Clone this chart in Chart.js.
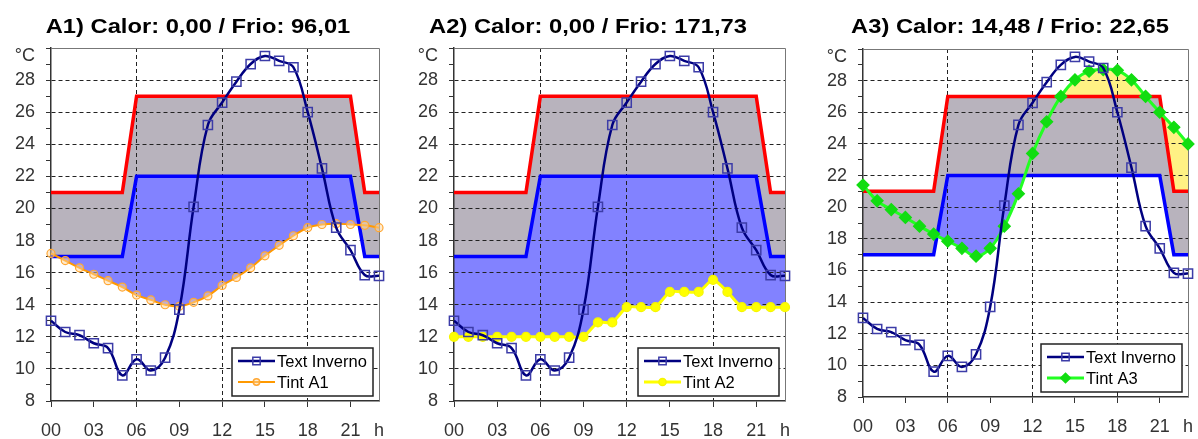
<!DOCTYPE html>
<html>
<head>
<meta charset="utf-8">
<script src="https://cdn.jsdelivr.net/npm/chart.js@4/dist/chart.umd.min.js"></script>
<style>
  body { margin: 0; background: #fff; }
  #wrap { position: relative; width: 1198px; height: 439px; overflow: hidden; }
  .panel { position: absolute; top: 0; }
  .title {
    position: absolute; top: 14px; width: 400px; text-align: center;
    font: bold 21px "Liberation Sans", Arial, sans-serif; line-height: 24px;
    color: #000; transform: scaleX(1.13); white-space: nowrap;
  }
</style>
</head>
<body>
<div id="wrap">
  <canvas id="chart-a1" class="panel" width="400" height="439" style="left:0px"></canvas>
  <canvas id="chart-a2" class="panel" width="400" height="439" style="left:400px"></canvas>
  <canvas id="chart-a3" class="panel" width="398" height="439" style="left:800px"></canvas>
  <div class="title" style="left:-2px">A1) Calor: 0,00 / Frio: 96,01</div>
  <div class="title" style="left:388px">A2) Calor: 0,00 / Frio: 171,73</div>
  <div class="title" style="left:810px">A3) Calor: 14,48 / Frio: 22,65</div>
</div>
<script>
// Data
var hours = [0, 1, 2, 3, 4, 5, 6, 7, 8, 9, 10, 11, 12, 13, 14, 15, 16, 17, 18, 19, 20, 21, 22, 23];
var hourTicks = [0, 3, 6, 9, 12, 15, 18, 21, 23];
var tempTicks = [8, 9, 10, 11, 12, 13, 14, 15, 16, 17, 18, 19, 20, 21, 22, 23, 24, 25, 26, 27, 28, 29, 30];

var textInverno = [13.0, 12.3, 12.1, 11.6, 11.3, 9.6, 10.6, 9.9, 10.7, 13.7, 20.1, 25.2,
                   26.6, 27.9, 29.0, 29.5, 29.2, 28.8, 26.0, 22.5, 18.8, 17.4, 15.85, 15.8];
var comfortMax = [21, 21, 21, 21, 21, 21, 27, 27, 27, 27, 27, 27,
                  27, 27, 27, 27, 27, 27, 27, 27, 27, 27, 21, 21];
var comfortMin = [17, 17, 17, 17, 17, 17, 22, 22, 22, 22, 22, 22,
                  22, 22, 22, 22, 22, 22, 22, 22, 22, 22, 17, 17];

var tintA1 = [17.2, 16.75, 16.3, 15.9, 15.5, 15.1, 14.6, 14.3, 14.0, 13.9, 14.15, 14.55,
              15.2, 15.7, 16.3, 17.05, 17.7, 18.3, 18.8, 19.0, 19.05, 19.0, 18.95, 18.8];
var tintA2 = [12.0, 12.0, 12.0, 12.0, 12.0, 12.0, 12.0, 12.0, 12.0, 12.0, 12.9, 12.9,
              13.85, 13.85, 13.85, 14.8, 14.8, 14.8, 15.55, 14.8, 13.85, 13.85, 13.85, 13.85];
var tintA3 = [21.4, 20.4, 19.85, 19.35, 18.8, 18.3, 17.85, 17.4, 16.9, 17.4, 18.8, 20.85,
              23.4, 25.4, 27.0, 28.05, 28.6, 28.7, 28.65, 28.05, 27.0, 26.0, 25.05, 24.0];

var tickFont = { family: '"Liberation Sans", Arial, sans-serif', size: 18 };
var yTickFont = { family: '"Liberation Sans", Arial, sans-serif', size: 18, lineHeight: 0.9 };
var gridDark = '#222';
var clear = 'rgba(0,0,0,0)';

function points(values) {
  return hours.map(function (h, i) { return { x: h, y: values[i] }; });
}

function drawMarker(ctx, style, x, y, r, fill, stroke) {
  ctx.beginPath();
  if (style === 'rect') {
    var s = r * Math.SQRT1_2;
    ctx.rect(x - s, y - s, 2 * s, 2 * s);
  } else if (style === 'rectRot') {
    ctx.moveTo(x, y - r); ctx.lineTo(x + r, y); ctx.lineTo(x, y + r); ctx.lineTo(x - r, y);
    ctx.closePath();
  } else {
    ctx.arc(x, y, r, 0, Math.PI * 2);
  }
  ctx.fillStyle = fill;
  ctx.fill();
  ctx.lineWidth = 1.5;
  ctx.strokeStyle = stroke;
  ctx.stroke();
}

// top + right frame of the plot; also makes sure curve control points exist
// before the fills (drawn before the grid) use them
var frame = {
  id: 'frame',
  afterUpdate: function (chart) {
    chart.getSortedVisibleDatasetMetas().forEach(function (m) {
      m.dataset.updateControlPoints(chart.chartArea, 'x');
    });
  },
  beforeDatasetsDraw: function (chart) {
    var a = chart.chartArea, ctx = chart.ctx;
    ctx.save();
    ctx.strokeStyle = '#777';
    ctx.lineWidth = 1;
    ctx.beginPath();
    ctx.moveTo(a.left, a.top + 0.5);
    ctx.lineTo(a.right + 0.5, a.top + 0.5);
    ctx.lineTo(a.right + 0.5, a.bottom);
    ctx.stroke();
    ctx.restore();
  }
};

// boxed legend, bottom right inside the plot
var boxLegend = {
  id: 'boxLegend',
  afterDatasetsDraw: function (chart) {
    var ctx = chart.ctx, a = chart.chartArea;
    var w = 141, h = 48;
    var x = a.right - 6 - w, y = a.bottom - 5 - h;
    ctx.save();
    ctx.fillStyle = '#fff';
    ctx.fillRect(x, y, w, h);
    ctx.strokeStyle = '#222';
    ctx.lineWidth = 1.5;
    ctx.strokeRect(x, y, w, h);
    ctx.font = '16.5px "Liberation Sans", Arial, sans-serif';
    ctx.textBaseline = 'middle';
    [0, 1].forEach(function (i) {
      var ds = chart.data.datasets[i];
      var ly = y + 13 + i * 21;
      ctx.strokeStyle = ds.borderColor;
      ctx.lineWidth = ds.borderWidth;
      ctx.beginPath();
      ctx.moveTo(x + 6, ly);
      ctx.lineTo(x + 43, ly);
      ctx.stroke();
      drawMarker(ctx, ds.pointStyle, x + 24.5, ly, ds.pointRadius * 0.8, ds.pointBackgroundColor, ds.pointBorderColor);
      ctx.fillStyle = '#000';
      ctx.fillText(ds.label, x + 45, ly + 1);
    });
    ctx.restore();
  }
};

function makePanel(id, tintLabel, tintValues, tintStyle, box) {
  var tint = {
    label: tintLabel,
    data: points(tintValues),
    borderColor: tintStyle.color,
    borderWidth: tintStyle.width,
    tension: tintStyle.tension,
    pointStyle: tintStyle.point,
    pointRadius: tintStyle.radius,
    pointBackgroundColor: tintStyle.pointFill,
    pointBorderColor: tintStyle.pointBorder,
    pointBorderWidth: 1.2,
    clip: false,
    fill: { target: 3, above: clear, below: '#8282ff' }
  };

  return new Chart(document.getElementById(id), {
    type: 'line',
    data: {
      datasets: [{
        label: 'Text Inverno',
        data: points(textInverno),
        borderColor: '#000080',
        borderWidth: 2.5,
        tension: 0.4,
        pointStyle: 'rect',
        pointRadius: 6.5,
        pointBackgroundColor: clear,
        pointBorderColor: '#3c3ca8',
        pointBorderWidth: 1.5,
        clip: false,
        fill: false
      },
      tint,
      {
        label: 'Max',
        data: points(comfortMax),
        borderColor: '#ff0000',
        borderWidth: 3.5,
        tension: 0,
        pointRadius: 0,
        fill: { target: 1, above: clear, below: '#fff184' }
      }, {
        label: 'Min',
        data: points(comfortMin),
        borderColor: '#0000ff',
        borderWidth: 3.5,
        tension: 0,
        pointRadius: 0,
        fill: { target: 2, above: clear, below: '#b8b3bd' }
      }]
    },
    options: {
      responsive: false,
      animation: false,
      events: [],
      layout: { padding: { top: box.top, right: box.right, bottom: 0, left: 0 } },
      plugins: {
        legend: { display: false },
        tooltip: { enabled: false },
        filler: { drawTime: 'beforeDraw' }
      },
      scales: {
        x: {
          type: 'linear',
          min: 0,
          max: 23,
          afterBuildTicks: function (s) { s.ticks = hourTicks.map(function (v) { return { value: v }; }); },
          afterFit: function (s) { s.height = box.xHeight; s.paddingLeft = 0; s.paddingRight = 0; },
          ticks: {
            autoSkip: false,
            maxRotation: 0,
            padding: 13,
            color: '#333',
            font: tickFont,
            callback: function (v) { return v === 23 ? 'h' : (v < 10 ? '0' + v : '' + v); }
          },
          grid: {
            color: function (c) {
              var v = c.tick ? c.tick.value : -1;
              return (v === 6 || v === 12 || v === 18) ? gridDark : clear;
            },
            tickColor: function (c) { return c.tick && c.tick.value === 23 ? clear : '#333'; },
            tickLength: 6,
            lineWidth: 1
          },
          border: { color: '#333', width: 1.5, dash: [4, 3] }
        },
        y: {
          min: 8,
          max: 30,
          afterBuildTicks: function (s) { s.ticks = tempTicks.map(function (v) { return { value: v }; }); },
          afterFit: function (s) { s.width = box.yWidth; s.paddingTop = 0; s.paddingBottom = 0; },
          ticks: {
            autoSkip: false,
            padding: 11,
            color: '#333',
            font: yTickFont,
            // unit sits just under the top tick
            callback: function (v) { return v === 30 ? ['', '°C'] : (v % 2 === 0 ? '' + v : ''); }
          },
          grid: {
            color: function (c) {
              var v = c.tick ? c.tick.value : 0;
              return (v % 2 === 0 && v > 8 && v < 30) ? gridDark : clear;
            },
            tickColor: '#333',
            tickLength: 5,
            lineWidth: 1
          },
          border: { color: '#333', width: 1.5, dash: [4, 3] }
        }
      }
    },
    plugins: [frame, boxLegend]
  });
}

// A1
makePanel('chart-a1', 'Tint A1', tintA1, {
  color: '#ff9900', width: 2, tension: 0.4, point: 'circle', radius: 4,
  pointFill: 'rgba(255,215,160,0.5)', pointBorder: '#ffa733'
}, { top: 48, right: 21, xHeight: 38, yWidth: 51 });

// A2
makePanel('chart-a2', 'Tint A2', tintA2, {
  color: '#ffff00', width: 3, tension: 0.2, point: 'circle', radius: 4.5,
  pointFill: '#ffff00', pointBorder: '#f5f500'
}, { top: 48, right: 15, xHeight: 38, yWidth: 54 });

// A3
makePanel('chart-a3', 'Tint A3', tintA3, {
  color: '#22ff22', width: 3, tension: 0.4, point: 'rectRot', radius: 6,
  pointFill: '#11dd11', pointBorder: '#11dd11'
}, { top: 49, right: 10, xHeight: 42, yWidth: 63 });
</script>
</body>
</html>
